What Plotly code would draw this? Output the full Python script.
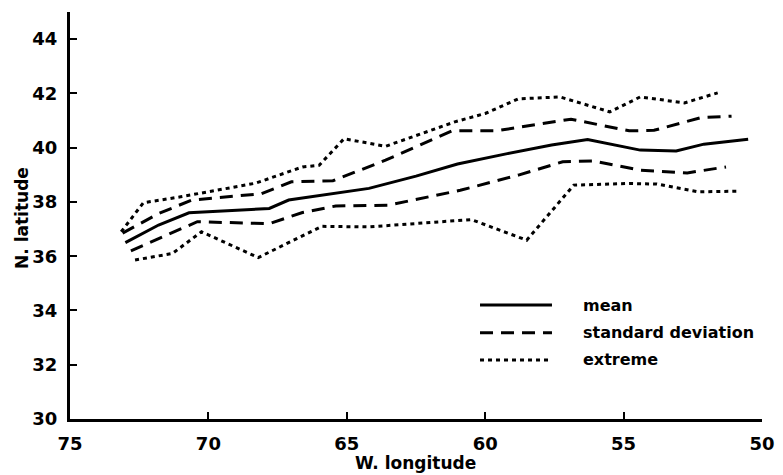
import plotly.graph_objects as go

# Latitude of the track (degrees N) against west longitude (degrees W)
mean_lon = [73.0, 71.8, 70.7, 67.8, 67.1, 65.5, 64.2, 62.5, 61.0, 59.2, 57.6,
            56.3, 54.4, 53.1, 52.1, 50.5]
mean_lat = [36.5, 37.15, 37.6, 37.76, 38.07, 38.3, 38.5, 38.95, 39.4, 39.78,
            40.1, 40.3, 39.91, 39.88, 40.13, 40.31]

sd_hi_lon = [73.1, 71.8, 70.6, 68.1, 67.0, 65.5, 63.6, 61.2, 59.6, 57.6, 56.9,
             54.8, 53.9, 52.2, 51.1]
sd_hi_lat = [36.85, 37.57, 38.07, 38.3, 38.74, 38.78, 39.54, 40.62, 40.62,
             40.95, 41.05, 40.62, 40.64, 41.11, 41.16]

sd_lo_lon = [72.8, 70.4, 67.8, 67.4, 66.6, 65.4, 63.5, 60.9, 58.8, 57.2, 56.1,
             54.4, 52.7, 51.3]
sd_lo_lat = [36.2, 37.27, 37.2, 37.33, 37.61, 37.85, 37.88, 38.43, 38.99,
             39.48, 39.51, 39.17, 39.07, 39.29]

ext_hi_lon = [73.15, 72.35, 71.0, 68.3, 66.6, 66.0, 65.1, 63.6, 61.1, 60.0,
              58.8, 57.3, 55.5, 54.4, 52.8, 51.6]
ext_hi_lat = [36.9, 37.97, 38.19, 38.69, 39.29, 39.35, 40.33, 40.05, 40.95,
              41.26, 41.8, 41.87, 41.32, 41.87, 41.65, 42.02]

ext_lo_lon = [72.65, 71.3, 70.25, 68.2, 65.9, 64.2, 60.5, 58.5, 56.8, 54.8,
              53.8, 52.3, 50.8]
ext_lo_lat = [35.86, 36.1, 36.9, 35.95, 37.1, 37.08, 37.35, 36.59, 38.62,
              38.68, 38.66, 38.37, 38.4]

x_ticks = [75, 70, 65, 60, 55, 50]
y_ticks = [30, 32, 34, 36, 38, 40, 42, 44]

legend_labels = ["mean", "standard deviation", "extreme"]
x_title = "W. longitude"
y_title = "N. latitude"

FONT = "DejaVu Sans"
SOLID = "solid"
DASHED = "13px,8px"
DOTTED = "4px,4px"
LW = 3

fig = go.Figure()

def add_line(lon, lat, dash):
    fig.add_trace(go.Scatter(
        x=lon, y=lat, mode="lines",
        line=dict(color="black", width=LW, dash=dash),
        showlegend=False, hoverinfo="skip",
    ))

add_line(mean_lon, mean_lat, SOLID)
add_line(sd_hi_lon, sd_hi_lat, DASHED)
add_line(sd_lo_lon, sd_lo_lat, DASHED)
add_line(ext_hi_lon, ext_hi_lat, DOTTED)
add_line(ext_lo_lon, ext_lo_lat, DOTTED)

# Legend key drawn in paper coordinates
key_rows = [0.28, 0.212, 0.145]
for label, dash, yk in zip(legend_labels, [SOLID, DASHED, DOTTED], key_rows):
    fig.add_shape(type="line", xref="paper", yref="paper",
                  x0=0.5925, x1=0.6965, y0=yk, y1=yk,
                  line=dict(color="black", width=LW, dash=dash))
    fig.add_annotation(xref="paper", yref="paper", x=0.739, y=yk,
                       text=label, showarrow=False, xanchor="left",
                       yanchor="middle",
                       font=dict(family=FONT, size=16, color="black",
                                 weight="bold"))

title_font = dict(family=FONT, size=17, color="black", weight="bold")
fig.add_annotation(xref="paper", yref="paper", x=0.4986, y=-0.108,
                   text=x_title, showarrow=False, xanchor="center",
                   yanchor="middle", font=title_font)
fig.add_annotation(xref="paper", yref="paper", x=-0.0694, y=0.494,
                   text=y_title, showarrow=False, textangle=-90,
                   xanchor="center", yanchor="middle", font=title_font)

axis_common = dict(
    showgrid=False, zeroline=False, showline=True, linecolor="black",
    linewidth=3, ticks="inside", ticklen=7, tickwidth=2, tickcolor="black",
    automargin=False,
    tickfont=dict(family=FONT, size=18, color="black", weight="bold"),
)

fig.update_layout(
    width=783, height=475,
    margin=dict(l=70, r=21, t=12, b=56),
    paper_bgcolor="white", plot_bgcolor="white",
    xaxis=dict(range=[75, 50], tickvals=x_ticks, ticklabelstandoff=6,
               **axis_common),
    yaxis=dict(range=[30, 45], tickvals=y_ticks, ticklabelstandoff=6,
               **axis_common),
)

fig.write_html("out.html")
